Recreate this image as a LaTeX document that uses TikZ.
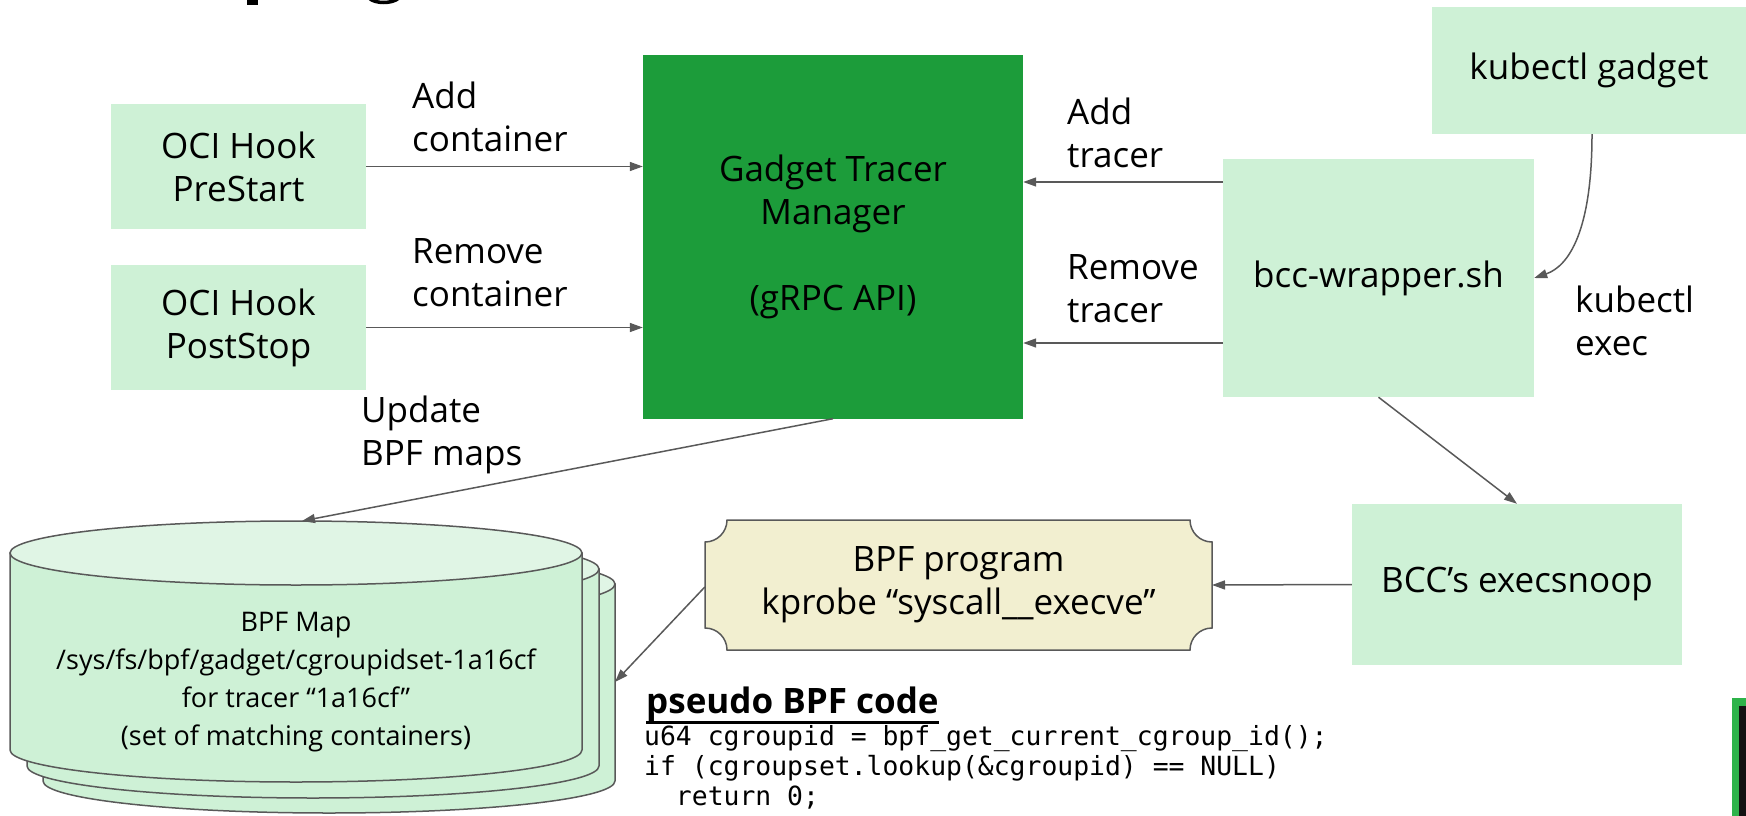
\documentclass[tikz,border=0pt]{standalone}
\usepackage{fontspec}
\setmainfont{Open Sans}
\newfontfamily\codefont{DejaVu Sans Mono}
\usetikzlibrary{arrows.meta}
\definecolor{lgreen}{HTML}{CEF1D6}
\definecolor{ltop}{HTML}{E0F5E5}
\definecolor{dgreen}{HTML}{1C9C3A}
\definecolor{beige}{HTML}{F2EFD0}
\definecolor{edgegray}{HTML}{595959}
\definecolor{logogreen}{HTML}{2DB34A}
\definecolor{logoblack}{HTML}{121212}
\newcommand\mycylinderlayer{%
  \path[fill=lgreen, draw=edgegray, line width=1.5pt] (10,553) -- (10,750)
    arc[start angle=180, end angle=360, x radius=286pt, y radius=32pt] -- (582,553) -- cycle;
  \path[fill=ltop, draw=edgegray, line width=1.5pt] (296,553) ellipse [x radius=286pt, y radius=32pt];
}
\begin{document}
\begin{tikzpicture}[x=1pt, y=-1pt,
  box/.style={fill=lgreen, inner sep=0pt, align=center, font=\fontsize{35}{43}\selectfont},
  lbl/.style={anchor=west, inner sep=0pt, align=left, font=\fontsize{35}{43}\selectfont},
  arr/.style={draw=edgegray, line width=1.5pt, -{Triangle[length=13pt,width=9pt]}},
]
\useasboundingbox (0,0) rectangle (1746,816);

% cut-off title fragments
\fill (247,0) rectangle (258,5);
\draw[line width=3.5pt] (369,-2) .. controls (375,4) and (392,4) .. (399,-2);

% corner logo fragment
\fill[logogreen] (1732,698) rectangle (1746,816);
\fill[logoblack] (1739,706) rectangle (1746,816);

% boxes
\node[box, minimum width=255pt, minimum height=125pt] (pre) at (238.5,166.5) {OCI Hook\\PreStart};
\node[box, minimum width=255pt, minimum height=125pt] (post) at (238.5,327.5) {OCI Hook\\PostStop};
\node[box, fill=dgreen, minimum width=380pt, minimum height=363pt] (gtm) at (833,237)
  {Gadget Tracer\\Manager\\\mbox{}\\(gRPC API)};
\node[box, minimum width=314pt, minimum height=127pt] (kg) at (1589,70.5) {kubectl gadget};
\node[box, minimum width=311pt, minimum height=238pt] (wrap) at (1378.5,278) {bcc-wrapper.sh};
\node[box, minimum width=330pt, minimum height=161pt] (exec) at (1517,584.5) {BCC’s execsnoop};

% BPF program plaque
\path[fill=beige, draw=edgegray, line width=1.5pt]
  (727,520) -- (1190,520) arc[start angle=180, end angle=270, radius=22pt]
  -- (1212,628) arc[start angle=90, end angle=180, radius=22pt]
  -- (727,650) arc[start angle=0, end angle=90, radius=22pt]
  -- (705,542) arc[start angle=270, end angle=360, radius=22pt] -- cycle;
\node[inner sep=0pt, minimum width=507pt, minimum height=130pt, align=center,
  font=\fontsize{35}{43}\selectfont] (bpf) at (958.5,585)
  {BPF program\\kprobe “syscall\_\_execve”};

% cylinder stack
\begin{scope}[shift={(33,31)}]\mycylinderlayer\end{scope}
\begin{scope}[shift={(17,16)}]\mycylinderlayer\end{scope}
\mycylinderlayer
\node[inner sep=0pt, align=center, font=\fontsize{27}{38}\selectfont] (cyl) at (296,682)
  {BPF Map\\/sys/fs/bpf/gadget/cgroupidset-1a16cf\\for tracer “1a16cf”\\(set of matching containers)};
\coordinate (cyltop) at (302,521);
\coordinate (cylside) at (615,682);

% labels
\node[lbl] (l1) at (412,117) {Add\\container};
\node[lbl] (l2) at (412,272.5) {Remove\\container};
\node[lbl] (l3) at (1067,133) {Add\\tracer};
\node[lbl] (l4) at (1067,289) {Remove\\tracer};
\node[lbl] (l5) at (361,435) {Update\\BPF maps};
\node[lbl] (l6) at (1575,321) {kubectl\\exec};

% code
\node[anchor=base west, inner sep=0pt, font=\bfseries\fontsize{35}{43}\selectfont] (hd) at (646,713) {pseudo BPF code};
\draw[line width=2.5pt] ([yshift=-1pt]hd.south west) -- ([yshift=-1pt]hd.south east);
\node[anchor=north west, inner sep=0pt, align=left, font=\codefont\fontsize{26.4}{30}\selectfont] (code) at (644,725)
  {u64 cgroupid = bpf\_get\_current\_cgroup\_id();\\
   if (cgroupset.lookup(\&cgroupid) == NULL)\\
   \phantom{xx}return 0;};

% connectors
\draw[arr] (pre.east) -- (pre.east -| gtm.west);
\draw[arr] (post.east) -- (post.east -| gtm.west);
\draw[arr] ([yshift=96pt]wrap.west) -- ([yshift=96pt]wrap.west -| gtm.east);
\draw[arr] ([yshift=-65pt]wrap.west) -- ([yshift=-65pt]wrap.west -| gtm.east);
\draw[arr] ([xshift=3pt]kg.south) .. controls +(0,96) and +(35,-12) .. (wrap.east);
\draw[arr] (wrap.south) -- (exec.north);
\draw[arr] (exec.west) -- (bpf.west -| 1212,0);
\draw[arr] ([yshift=-2pt]bpf.west) -- (cylside);
\draw[arr] (gtm.south) -- (cyltop);
\end{tikzpicture}
\end{document}
